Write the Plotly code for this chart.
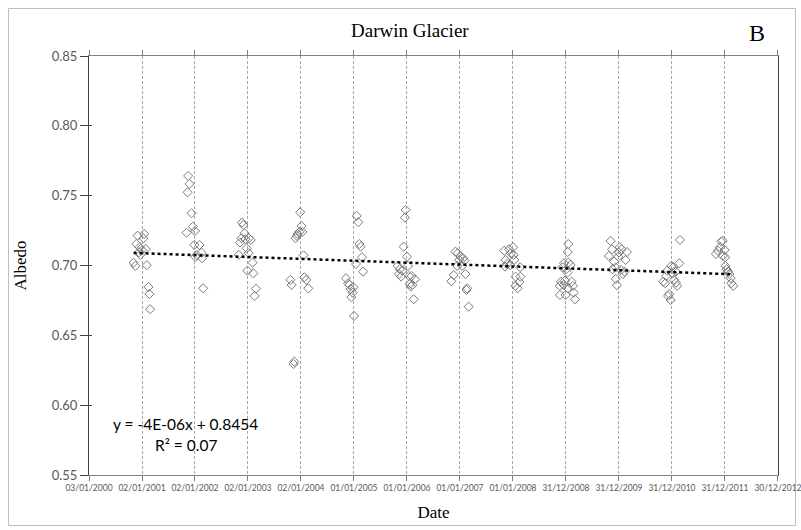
import numpy as np
import pandas as pd
import plotly.graph_objects as go

title_text = "Darwin Glacier"
panel_label = "B"
x_title = "Date"
y_title = "Albedo"
equation_text = "y = -4E-06x + 0.8454"
r2_text = "R² = 0.07"

tick_dates = ["2000-01-03", "2001-01-02", "2002-01-02", "2003-01-02", "2004-01-02",
              "2005-01-01", "2006-01-01", "2007-01-01", "2008-01-01", "2008-12-31",
              "2009-12-31", "2010-12-31", "2011-12-31", "2012-12-30"]
y_ticks = [0.55, 0.60, 0.65, 0.70, 0.75, 0.80, 0.85]

obs_dates = [
    # 2000/01 season
    "2000-12-03", "2001-01-17", "2001-01-12", "2000-11-24", "2000-12-17", "2001-01-28",
    "2001-01-02", "2000-12-21", "2000-12-12", "2000-11-05", "2000-11-17", "2001-02-04",
    "2001-02-15", "2001-02-22", "2001-02-27",
    # 2001/02
    "2001-11-16", "2001-11-25", "2001-11-12", "2001-12-09", "2001-12-18", "2001-11-05",
    "2002-01-02", "2001-12-28", "2002-02-02", "2002-02-16", "2002-01-14", "2002-01-05",
    "2002-02-20", "2002-02-27",
    # 2002/03
    "2002-11-22", "2002-12-01", "2002-12-10", "2002-11-18", "2002-11-08", "2002-12-15",
    "2003-01-07", "2003-01-21", "2002-12-24", "2003-01-06", "2002-10-30", "2003-02-03",
    "2002-12-29", "2003-02-08", "2003-02-26", "2003-02-17",
    # 2003/04
    "2003-12-28", "2004-01-06", "2004-01-11", "2003-12-23", "2003-12-10", "2003-11-26",
    "2003-12-06", "2004-01-20", "2003-10-21", "2003-10-30", "2004-01-25", "2004-02-07",
    "2004-02-21", "2003-11-17", "2003-11-12",
    # 2004/05
    "2005-01-20", "2005-01-31", "2005-02-07", "2005-02-16", "2005-02-25", "2005-01-15",
    "2005-03-04", "2004-11-07", "2004-11-21", "2004-11-30", "2004-12-28", "2004-12-09",
    "2004-12-23", "2004-12-14", "2005-01-01",
    # 2005/06
    "2005-12-23", "2005-12-18", "2005-12-09", "2006-01-01", "2006-01-08", "2005-10-29",
    "2005-11-12", "2005-11-30", "2005-11-07", "2005-11-21", "2006-01-15", "2006-02-02",
    "2006-02-25", "2006-01-20", "2006-02-07", "2006-01-28", "2006-02-16",
    # 2006/07
    "2006-12-01", "2006-12-17", "2007-01-04", "2007-01-23", "2006-12-27", "2007-02-01",
    "2006-12-13", "2007-01-16", "2007-02-08", "2006-11-19", "2006-11-02", "2007-02-19",
    "2007-02-15", "2007-03-02",
    # 2007/08
    "2007-11-02", "2007-12-05", "2008-01-01", "2007-12-18", "2008-01-05", "2008-01-10",
    "2007-11-11", "2007-11-21", "2007-11-07", "2007-12-13", "2008-02-20", "2008-01-19",
    "2008-02-21", "2008-02-15", "2008-01-18", "2008-02-02",
    # 2008/09
    "2009-01-16", "2009-01-12", "2008-12-17", "2009-01-17", "2009-02-01", "2008-12-06",
    "2009-01-03", "2009-01-11", "2008-11-27", "2008-12-24", "2009-02-08", "2008-11-18",
    "2008-12-15", "2009-02-17", "2009-01-13", "2009-02-22", "2008-11-19", "2008-12-29",
    "2009-03-03",
    # 2009/10
    "2009-11-04", "2009-11-13", "2010-01-05", "2010-01-19", "2009-12-31", "2010-02-24",
    "2009-10-23", "2009-12-27", "2010-02-15", "2009-11-27", "2009-12-08", "2010-01-14",
    "2010-02-08", "2009-11-16", "2010-01-27", "2009-12-09", "2009-12-17",
    # 2010/11
    "2011-02-24", "2011-02-19", "2010-12-26", "2011-01-09", "2010-11-29", "2011-01-27",
    "2011-01-05", "2010-11-20", "2011-01-14", "2010-11-01", "2010-11-15", "2011-01-28",
    "2011-02-05", "2010-12-12", "2010-12-04", "2010-12-22",
    # 2011/12
    "2011-12-15", "2011-12-06", "2011-11-27", "2011-11-13", "2011-10-30", "2011-12-29",
    "2011-12-16", "2012-01-02", "2012-01-03", "2012-01-12", "2012-01-21", "2012-01-30",
    "2012-02-08", "2012-02-12", "2012-02-26",
]

obs_albedo = [
    0.7214, 0.7226, 0.7195, 0.7154, 0.7131, 0.7118, 0.7110, 0.7076, 0.7095, 0.7020,
    0.6997, 0.7002, 0.6846, 0.6796, 0.6687,
    0.7641, 0.7584, 0.7524, 0.7374, 0.7278, 0.7235, 0.7247, 0.7147, 0.7147, 0.7092,
    0.7076, 0.7063, 0.7052, 0.6837,
    0.7307, 0.7290, 0.7231, 0.7195, 0.7164, 0.7188, 0.7195, 0.7183, 0.7123, 0.7088,
    0.7076, 0.7021, 0.6963, 0.6944, 0.6834, 0.6782,
    0.7381, 0.7283, 0.7240, 0.7242, 0.7226, 0.7195, 0.7212, 0.7073, 0.6897, 0.6861,
    0.6916, 0.6897, 0.6837, 0.6312, 0.6295,
    0.7355, 0.7310, 0.7154, 0.7135, 0.7059, 0.7011, 0.6956, 0.6909, 0.6873, 0.6861,
    0.6844, 0.6832, 0.6806, 0.6773, 0.6639,
    0.7398, 0.7343, 0.7135, 0.7063, 0.6997, 0.6997, 0.6973, 0.6963, 0.6939, 0.6920,
    0.6925, 0.6925, 0.6901, 0.6868, 0.6861, 0.6849, 0.6758,
    0.7099, 0.7088, 0.7063, 0.7052, 0.7040, 0.7035, 0.6997, 0.6997, 0.6939, 0.6932,
    0.6887, 0.6837, 0.6825, 0.6705,
    0.7106, 0.7116, 0.7131, 0.7088, 0.7076, 0.7040, 0.7040, 0.7011, 0.6992, 0.7002,
    0.6987, 0.6920, 0.6920, 0.6882, 0.6854, 0.6837,
    0.7154, 0.7097, 0.7016, 0.7021, 0.7004, 0.6987, 0.6973, 0.6949, 0.6884, 0.6892,
    0.6884, 0.6854, 0.6861, 0.6854, 0.6837, 0.6806, 0.6789, 0.6789, 0.6758,
    0.7176, 0.7116, 0.7131, 0.7116, 0.7092, 0.7097, 0.7068, 0.7063, 0.7040, 0.7028,
    0.6987, 0.6968, 0.6956, 0.6973, 0.6939, 0.6904, 0.6859,
    0.7183, 0.7016, 0.6997, 0.6987, 0.6963, 0.6956, 0.6944, 0.6925, 0.6897, 0.6884,
    0.6873, 0.6877, 0.6854, 0.6796, 0.6782, 0.6753,
    0.7178, 0.7171, 0.7131, 0.7106, 0.7083, 0.7111, 0.7068, 0.7059, 0.6997, 0.6973,
    0.6956, 0.6939, 0.6909, 0.6873, 0.6854,
]

dates = pd.to_datetime(obs_dates)
vals = np.array(obs_albedo)

# linear trend (least squares) across the observations
days = (dates - pd.Timestamp("1899-12-30")).days.values.astype(float)
slope, intercept = np.polyfit(days, vals, 1)
trend_x = [dates.min(), dates.max()]
trend_days = np.array([days.min(), days.max()])
trend_y = slope * trend_days + intercept

serif = "Liberation Serif, DejaVu Serif, serif"
sans = "Lato, Open Sans, sans-serif"
axis_col = "#595959"

x_end = pd.Timestamp(tick_dates[-1]) + pd.Timedelta(hours=6)

fig = go.Figure()
fig.add_trace(go.Scatter(
    x=dates, y=vals, mode="markers",
    marker=dict(symbol="diamond-open", size=7, color="#7a7a7a", line=dict(width=1, color="#7a7a7a")),
    showlegend=False, hoverinfo="x+y",
))
fig.add_trace(go.Scatter(
    x=trend_x, y=trend_y, mode="lines",
    line=dict(color="#000000", width=2.5, dash="dot"),
    showlegend=False,
))
# invisible trace anchoring an overlay axis that draws the inner half of the crossing ticks
fig.add_trace(go.Scatter(x=[dates.min()], y=[y_ticks[0]], yaxis="y2", mode="markers",
                         marker=dict(opacity=0), showlegend=False, hoverinfo="skip"))

L, R, T, B = 89, 23, 56, 55
W, H = 801, 530
pw, ph = W - L - R, H - T - B

def px(xp):
    return (xp - L) / pw

def py(yp):
    return (H - B - yp) / ph

fig.update_layout(
    width=W, height=H,
    margin=dict(l=L, r=R, t=T, b=B, pad=0),
    paper_bgcolor="white", plot_bgcolor="white",
    xaxis=dict(
        type="date",
        range=[tick_dates[0], x_end],
        tickvals=tick_dates,
        tickformat="%d/%m/%Y",
        tickangle=0,
        automargin=False,
        ticklabeloverflow="allow",
        tickfont=dict(family=sans, size=8.5, color=axis_col),
        showgrid=True, gridcolor="#a6a6a6", griddash="3px,2px", gridwidth=1,
        showline=True, linecolor="#7f7f7f", linewidth=1, mirror="ticks",
        ticks="outside", ticklen=5, tickcolor="#7f7f7f",
        zeroline=False,
        title=dict(text=x_title, font=dict(family=serif, size=17, color="#000000"), standoff=13),
    ),
    yaxis=dict(
        range=[0.55, 0.85],
        tickvals=y_ticks,
        tickformat=".2f",
        automargin=False,
        tickfont=dict(family=sans, size=13, color=axis_col),
        showgrid=False,
        showline=True, linecolor="#404040", linewidth=1, mirror=True,
        ticks="outside", ticklen=8, tickcolor="#404040",
        zeroline=False,
        title=dict(text=y_title, font=dict(family=serif, size=17, color="#000000"), standoff=20),
    ),
    yaxis2=dict(
        range=[0.55, 0.85], overlaying="y", side="left",
        tickvals=y_ticks, showticklabels=False,
        ticks="inside", ticklen=3, tickcolor="#404040",
        showgrid=False, showline=False, zeroline=False,
    ),
    annotations=[
        dict(text=title_text, x=px(410), y=py(31), xref="paper", yref="paper",
             showarrow=False, font=dict(family=serif, size=19, color="#000000"),
             xanchor="center", yanchor="middle"),
        dict(text=panel_label, x=px(757), y=py(33), xref="paper", yref="paper",
             showarrow=False, font=dict(family=serif, size=24, color="#000000"),
             xanchor="center", yanchor="middle"),
        dict(text=equation_text, x=px(185), y=py(424), xref="paper", yref="paper",
             showarrow=False, font=dict(family=sans, size=15.5, color="#000000"),
             xanchor="center", yanchor="middle"),
        dict(text=r2_text, x=px(186), y=py(445), xref="paper", yref="paper",
             showarrow=False, font=dict(family=sans, size=15.5, color="#000000"),
             xanchor="center", yanchor="middle"),
    ],
    shapes=[
        dict(type="rect", xref="paper", yref="paper",
             x0=px(8.5), x1=px(795.5), y0=py(525.5), y1=py(8.5),
             line=dict(color="#bfbfbf", width=1), fillcolor="rgba(0,0,0,0)", layer="below"),
    ],
)

fig.write_html("out.html")
